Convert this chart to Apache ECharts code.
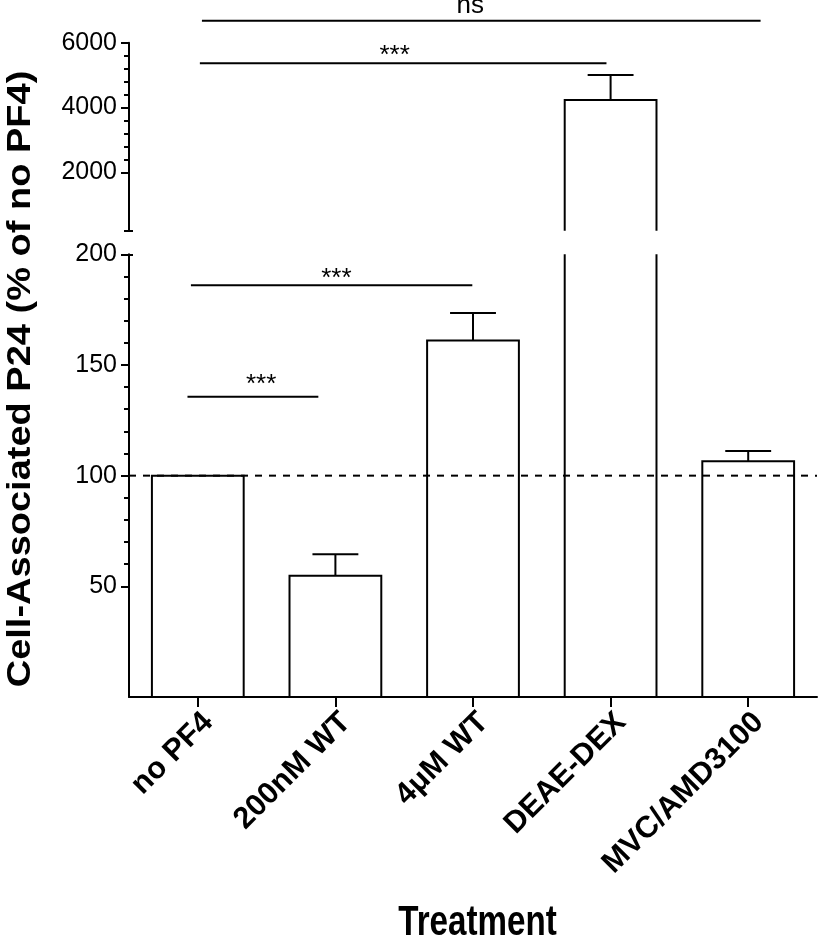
<!DOCTYPE html>
<html><head><meta charset="utf-8">
<script src="https://cdn.jsdelivr.net/npm/echarts@6/dist/echarts.min.js"></script>
<style>html,body{margin:0;padding:0;background:#fff}#c{width:820px;height:940px}</style>
</head><body><div id="c"></div>
<script>
// ---- data ----
const categories = ['no PF4', '200nM WT', '4\u03bcM WT', 'DEAE-DEX', 'MVC/AMD3100'];
const meanValues = [100, 54.8, 161.1, 4230, 106.5];
const semValues = [0, 9.7, 12.4, 770, 4.6];
const referenceValue = 100;
const lowerMajorTicks = [50, 100, 150, 200];
const lowerMinorTicks = [60, 70, 80, 90, 110, 120, 130, 140, 160, 170, 180, 190];
const upperMajorTicks = [2000, 4000, 6000];
const upperMinorTicks = [200, 2400, 2800, 3200, 3600, 4400, 4800, 5200, 5600];
const breakValue = 200;
// significance brackets (positions in category units, values in axis units)
const sigLabels = ['ns', '***', '***', '***'];
const sigPanel = ['upper', 'upper', 'lower', 'lower'];
const sigValues = [6680, 5364, 186, 135.7];
const sigStart = [0.03, 0.015, -0.05, -0.075];
const sigEnd = [4.09, 2.97, 1.995, 0.876];
const sigLabelPos = [1.98, 1.43, 1.007, 0.46];
const sigLabelValues = [7132, 5590, 189, 141];

const FONT = '"Liberation Sans", Arial, Helvetica, sans-serif';
const INK = '#000';
const barFraction = 0.667;

const chart = echarts.init(document.getElementById('c'), null, {renderer: 'canvas'});

function renderBar(params, api) {
  const i = api.value(0), v = api.value(1), e = api.value(2);
  const band = api.size([1, 0])[0];
  const w = band * barFraction;
  const base = api.coord([i, 0]);
  const top = api.coord([i, v]);
  const xc = top[0], x0 = xc - w / 2, x1 = xc + w / 2;
  const children = [{
    type: 'polyline',
    shape: {points: [[x0, base[1]], [x0, top[1]], [x1, top[1]], [x1, base[1]]]},
    style: {stroke: INK, fill: 'none', lineWidth: 2}
  }];
  if (e > 0) {
    const et = api.coord([i, v + e])[1];
    children.push({type: 'line', shape: {x1: xc, y1: top[1], x2: xc, y2: et}, style: {stroke: INK, lineWidth: 2}});
    children.push({type: 'line', shape: {x1: xc - w / 4, y1: et, x2: xc + w / 4, y2: et}, style: {stroke: INK, lineWidth: 2}});
  }
  return {type: 'group', children};
}

function renderSig(params, api) {
  const k = api.value(2);
  const origin = api.coord([0, sigValues[k]]);
  const band = api.size([1, 0])[0];
  const xs = origin[0] + sigStart[k] * band;
  const xe = origin[0] + sigEnd[k] * band;
  const ly = api.coord([0, sigLabelValues[k]])[1];
  const lx = origin[0] + sigLabelPos[k] * band;
  return {type: 'group', children: [
    {type: 'line', shape: {x1: xs, y1: origin[1], x2: xe, y2: origin[1]}, style: {stroke: INK, lineWidth: 2}},
    {type: 'text', x: lx, y: ly, style: {text: sigLabels[k], fontSize: 26, fontFamily: FONT, fill: INK, align: 'center', verticalAlign: 'middle'}}
  ]};
}

function renderRef(params, api) {
  const origin = api.coord([0, api.value(1)]);
  const band = api.size([1, 0])[0];
  return {type: 'line', shape: {x1: origin[0] - 0.5 * band, y1: origin[1], x2: origin[0] + (categories.length - 0.5) * band, y2: origin[1]},
    style: {stroke: INK, lineWidth: 2, lineDash: [7, 7]}};
}

const barData = categories.map((c, i) => [i, meanValues[i], semValues[i]]);
const upperBarData = barData.filter(d => d[1] > breakValue);
const sigData = p => sigLabels.map((l, k) => [0, sigValues[k], k]).filter((d, k) => sigPanel[k] === p);

const noFmt = v => String(v);
function yAxisBase(grid, min, max) {
  return {type: 'value', gridIndex: grid, min, max, position: 'left', splitLine: {show: false},
    axisLine: {show: false}, axisTick: {show: false}, axisLabel: {show: false}};
}
const axisLineStyle = {color: INK, width: 2};

const option = {
  backgroundColor: '#fff',
  animation: false,
  grid: [
    {left: 129, right: 3, top: 42.7, height: 188, containLabel: false, outerBoundsMode: 'none'},
    {left: 129, right: 3, top: 254.3, bottom: 243, containLabel: false, outerBoundsMode: 'none'}
  ],
  xAxis: [
    {type: 'category', gridIndex: 0, data: categories, show: false},
    {type: 'category', gridIndex: 1, data: categories,
      axisLine: {show: true, lineStyle: axisLineStyle},
      axisTick: {show: true, alignWithLabel: true, length: 10, lineStyle: axisLineStyle},
      axisLabel: {interval: 0, rotate: 45, fontSize: 30.5, fontWeight: 'bold', fontFamily: FONT, color: INK,
        margin: 10, align: 'right', verticalAlign: 'top', lineHeight: 30},
      splitLine: {show: false}}
  ],
  yAxis: [
    Object.assign(yAxisBase(0, breakValue, 6000), {
      axisLine: {show: true, lineStyle: axisLineStyle},
      axisTick: {show: true, length: 8, lineStyle: axisLineStyle, customValues: upperMajorTicks},
      axisLabel: {show: true, customValues: upperMajorTicks, formatter: noFmt, fontSize: 25, fontFamily: FONT, color: INK, margin: 12}
    }),
    Object.assign(yAxisBase(0, breakValue, 6000), {
      axisTick: {show: true, length: 5, lineStyle: axisLineStyle, customValues: upperMinorTicks}
    }),
    Object.assign(yAxisBase(0, breakValue, 6000), {
      axisTick: {show: true, inside: true, length: 4, lineStyle: axisLineStyle, customValues: [breakValue]}
    }),
    Object.assign(yAxisBase(1, 0, breakValue), {
      axisLine: {show: true, lineStyle: axisLineStyle},
      axisTick: {show: true, length: 8, lineStyle: axisLineStyle, customValues: lowerMajorTicks},
      axisLabel: {show: true, customValues: lowerMajorTicks, formatter: noFmt, fontSize: 25, fontFamily: FONT, color: INK, margin: 12}
    }),
    Object.assign(yAxisBase(1, 0, breakValue), {
      axisTick: {show: true, length: 5, lineStyle: axisLineStyle, customValues: lowerMinorTicks}
    }),
    Object.assign(yAxisBase(1, 0, breakValue), {
      axisTick: {show: true, inside: true, length: 4, lineStyle: axisLineStyle, customValues: [breakValue]}
    })
  ],
  series: [
    {type: 'custom', name: 'upper bars', xAxisIndex: 0, yAxisIndex: 0, clip: true, silent: true,
      encode: {x: 0, y: 1}, data: upperBarData, renderItem: renderBar},
    {type: 'custom', name: 'lower bars', xAxisIndex: 1, yAxisIndex: 3, clip: true, silent: true,
      encode: {x: 0, y: 1}, data: barData, renderItem: renderBar},
    {type: 'custom', name: 'reference', xAxisIndex: 1, yAxisIndex: 3, clip: false, silent: true,
      encode: {x: 0, y: 1}, data: [[0, referenceValue]], renderItem: renderRef},
    {type: 'custom', name: 'sig upper', xAxisIndex: 0, yAxisIndex: 0, clip: false, silent: true,
      encode: {x: 0, y: 1}, data: sigData('upper'), renderItem: renderSig},
    {type: 'custom', name: 'sig lower', xAxisIndex: 1, yAxisIndex: 3, clip: false, silent: true,
      encode: {x: 0, y: 1}, data: sigData('lower'), renderItem: renderSig}
  ],
  graphic: [
    {type: 'text', x: 21.5, y: 379, rotation: Math.PI / 2, scaleY: 0.85, silent: true,
      style: {text: 'Cell-Associated P24 (% of no PF4)', fontSize: 38, fontWeight: 'bold', fontFamily: FONT, fill: INK, align: 'center', verticalAlign: 'middle'}},
    {type: 'text', x: 477.5, y: 923, scaleX: 0.79, silent: true,
      style: {text: 'Treatment', fontSize: 42, fontWeight: 'bold', fontFamily: FONT, fill: INK, align: 'center', verticalAlign: 'middle'}}
  ]
};
chart.setOption(option);
</script>
</body></html>
